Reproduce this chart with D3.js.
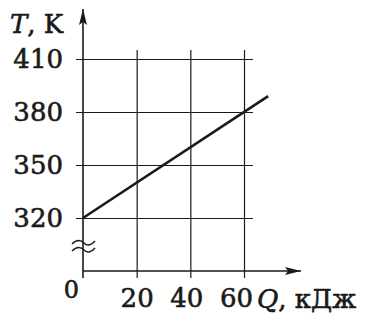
<html>
<head>
  <style>
    body { margin: 0; background: white; }
    svg { display: block; }
    text { font-family: "DejaVu Serif", serif; fill: #1a1a1a; stroke: #1a1a1a; stroke-width: 0.6px; }
  </style>
</head>
<body>
  <svg id="chart"></svg>
  <script src="https://cdn.jsdelivr.net/npm/d3@7"></script>
  <script>
    // data
    var qTicks = [20, 40, 60];          // кДж
    var tTicks = [320, 350, 380, 410];  // K
    var lineQ = [0, 69];
    var lineT = [320, 389];

    var width = 387, height = 327;
    var svg = d3.select("#chart").attr("width", width).attr("height", height);

    var x = d3.scaleLinear().domain([0, 60]).range([83, 244]);
    var y = d3.scaleLinear().domain([320, 410]).range([218, 59]);
    // axis sits one grid step below 320 (broken axis)
    var axisY = y(320) + (y(320) - y(350));

    var gridLeft = 76, gridRight = 253, gridTop = 50, gridBottom = 278;
    var ink = "#1a1a1a";

    // horizontal grid + T labels
    var gy = svg.append("g")
      .attr("transform", "translate(" + gridLeft + ",0)")
      .call(d3.axisLeft(y).tickValues(tTicks).tickSize(-(gridRight - gridLeft)).tickPadding(13));
    gy.select(".domain").remove();
    gy.selectAll("line").attr("stroke", ink).attr("stroke-width", 1.2);
    gy.selectAll("text").attr("font-size", 26).attr("fill", ink).style("font-family", "DejaVu Serif");

    // vertical grid + Q labels
    var gx = svg.append("g")
      .attr("transform", "translate(0," + gridBottom + ")")
      .call(d3.axisBottom(x).tickValues(qTicks).tickSize(-(gridBottom - gridTop)).tickPadding(11));
    gx.select(".domain").remove();
    gx.selectAll("line").attr("stroke", ink).attr("stroke-width", 1.2);
    gx.selectAll("text").attr("font-size", 26).attr("fill", ink).style("font-family", "DejaVu Serif")
      .attr("dx", function(d, i) { return -i * 4; });

    // arrow marker
    svg.append("defs").append("marker")
      .attr("id", "arrow")
      .attr("viewBox", "0 0 16 8")
      .attr("refX", 16).attr("refY", 4)
      .attr("markerWidth", 16).attr("markerHeight", 8)
      .attr("markerUnits", "userSpaceOnUse")
      .attr("orient", "auto")
      .append("path")
      .attr("d", "M0,0 L16,4 L0,8 L3,4 Z")
      .attr("fill", ink);

    // main axes
    svg.append("line")
      .attr("x1", x(0)).attr("y1", gridBottom)
      .attr("x2", x(0)).attr("y2", 9)
      .attr("stroke", ink).attr("stroke-width", 1.6)
      .attr("marker-end", "url(#arrow)");
    svg.append("line")
      .attr("x1", x(0)).attr("y1", axisY)
      .attr("x2", 301).attr("y2", axisY)
      .attr("stroke", ink).attr("stroke-width", 1.6)
      .attr("marker-end", "url(#arrow)");

    // break marks on the T axis
    [243, 250].forEach(function(by) {
      svg.append("path")
        .attr("d", "M72," + (by + 1) + " C77," + (by - 4) + " 81," + (by - 3) + " 84," + by +
                   " S91," + (by + 3) + " 95," + (by - 2))
        .attr("fill", "none").attr("stroke", ink).attr("stroke-width", 1.4);
    });

    // the data line
    var pts = lineQ.map(function(q, i) { return [q, lineT[i]]; });
    svg.append("path")
      .datum(pts)
      .attr("d", d3.line().x(function(d) { return x(d[0]); }).y(function(d) { return y(d[1]); }))
      .attr("fill", "none").attr("stroke", ink).attr("stroke-width", 2.6);

    // labels
    svg.append("text").attr("x", 79).attr("y", 298).attr("text-anchor", "end")
      .attr("font-size", 24).text("0");

    var tl = svg.append("text").attr("x", 10).attr("y", 33).attr("font-size", 26);
    tl.append("tspan").attr("font-style", "italic").text("T");
    tl.append("tspan").text(", K");

    var ql = svg.append("text").attr("x", 257).attr("y", 308).attr("font-size", 26);
    ql.append("tspan").attr("font-style", "italic").text("Q");
    ql.append("tspan").text(", кДж");
  </script>
</body>
</html>
